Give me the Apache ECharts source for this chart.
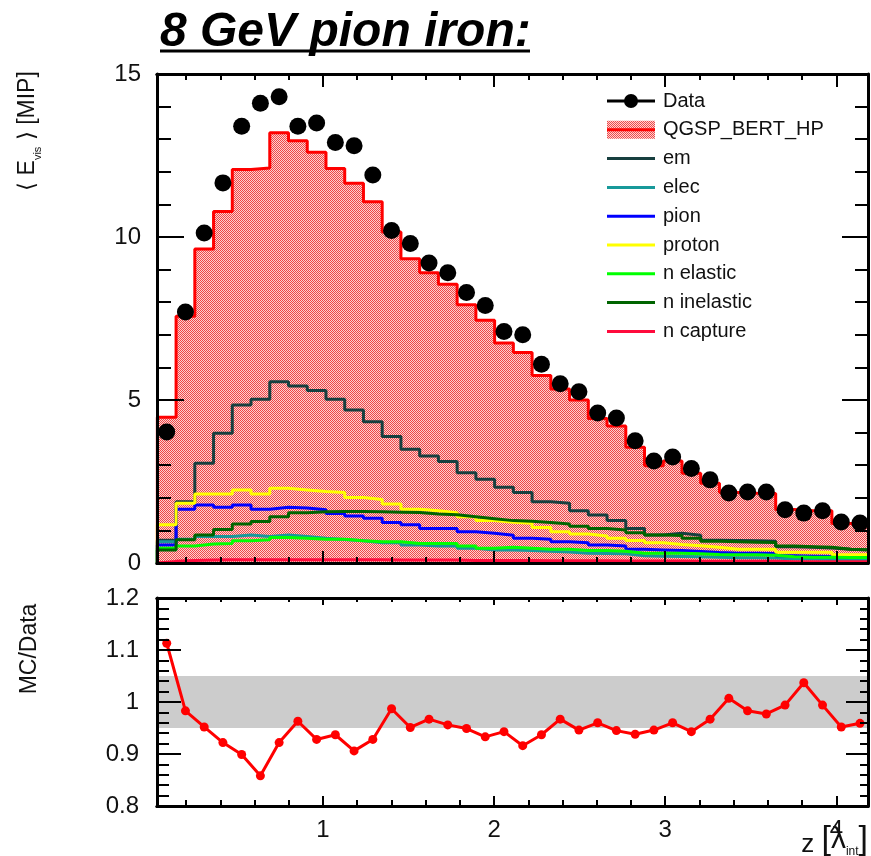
<!DOCTYPE html>
<html>
<head>
<meta charset="utf-8">
<script src="https://cdn.jsdelivr.net/npm/echarts@6/dist/echarts.min.js"></script>
<style>
  html, body { margin: 0; padding: 0; background: #fff; }
  #chart { width: 871px; height: 856px; }
</style>
</head>
<body>
<div id="chart"></div>
<script>
// Longitudinal shower profile, 8 GeV pions in iron: 38 depth bins in units of lambda_int
const zStart = 0.032;
const zWidth = 0.1095;

// Measured visible energy per layer [MIP]
const dataVals = [4.02, 7.7, 10.12, 11.66, 13.4, 14.1, 14.3, 13.4, 13.5, 12.9,
  12.8, 11.9, 10.2, 9.8, 9.2, 8.9, 8.3, 7.9, 7.1, 7.0,
  6.1, 5.5, 5.25, 4.6, 4.45, 3.75, 3.13, 3.25, 2.9, 2.55,
  2.15, 2.18, 2.18, 1.63, 1.53, 1.6, 1.26, 1.23];

// QGSP_BERT_HP total
const mcTotal = [4.47, 7.57, 9.63, 10.78, 12.07, 12.12, 13.2, 12.95, 12.6, 12.1,
  11.65, 11.08, 10.15, 9.33, 8.9, 8.55, 7.92, 7.45, 6.75, 6.46,
  5.75, 5.34, 5.0, 4.43, 4.2, 3.55, 2.98, 3.13, 2.75, 2.45,
  2.16, 2.14, 2.13, 1.64, 1.6, 1.6, 1.21, 1.19];

// Contributions by particle type
const emVals = [0.7, 1.88, 3.06, 3.98, 4.85, 5.02, 5.56, 5.43, 5.29, 5.02,
  4.69, 4.33, 3.88, 3.49, 3.28, 3.11, 2.77, 2.57, 2.32, 2.16,
  1.88, 1.83, 1.6, 1.47, 1.3, 1.06, 0.86, 0.91, 0.85, 0.7,
  0.69, 0.68, 0.67, 0.5, 0.48, 0.46, 0.42, 0.4];
const elecVals = [0.65, 0.73, 0.81, 0.81, 0.86, 0.81, 0.86, 0.81, 0.76, 0.72,
  0.68, 0.62, 0.62, 0.55, 0.52, 0.52, 0.45, 0.4, 0.4, 0.38,
  0.36, 0.34, 0.3, 0.29, 0.28, 0.22, 0.21, 0.2, 0.19, 0.18,
  0.16, 0.16, 0.15, 0.12, 0.12, 0.11, 0.1, 0.1];
const pionVals = [0.55, 1.65, 1.78, 1.71, 1.78, 1.65, 1.71, 1.69, 1.63, 1.52,
  1.44, 1.37, 1.24, 1.17, 1.06, 1.06, 0.96, 0.91, 0.85, 0.76,
  0.73, 0.65, 0.62, 0.55, 0.52, 0.42, 0.4, 0.38, 0.35, 0.32,
  0.3, 0.3, 0.29, 0.22, 0.21, 0.2, 0.17, 0.17];
const protonVals = [1.17, 1.83, 2.12, 2.12, 2.24, 2.12, 2.29, 2.24, 2.19, 2.16,
  2.01, 1.95, 1.81, 1.65, 1.6, 1.54, 1.42, 1.3, 1.25, 1.22,
  1.09, 0.96, 0.89, 0.83, 0.76, 0.69, 0.62, 0.57, 0.53, 0.48,
  0.42, 0.42, 0.42, 0.33, 0.33, 0.33, 0.25, 0.25];
const nElasticVals = [0.45, 0.52, 0.58, 0.6, 0.68, 0.71, 0.78, 0.76, 0.73, 0.73,
  0.68, 0.65, 0.65, 0.6, 0.6, 0.6, 0.52, 0.45, 0.48, 0.45,
  0.42, 0.42, 0.38, 0.38, 0.36, 0.3, 0.3, 0.3, 0.28, 0.26,
  0.25, 0.25, 0.24, 0.19, 0.18, 0.18, 0.17, 0.17];
const nInelasticVals = [0.4, 0.71, 0.86, 1.03, 1.2, 1.27, 1.42, 1.54, 1.57, 1.58,
  1.58, 1.57, 1.56, 1.55, 1.5, 1.48, 1.42, 1.36, 1.3, 1.28,
  1.24, 1.2, 1.13, 1.06, 1.01, 0.93, 0.86, 0.84, 0.76, 0.67,
  0.65, 0.64, 0.63, 0.52, 0.5, 0.48, 0.42, 0.41];
const nCaptureVals = [0.05, 0.08, 0.09, 0.1, 0.1, 0.1, 0.1, 0.1, 0.1, 0.1,
  0.1, 0.1, 0.09, 0.09, 0.09, 0.09, 0.08, 0.08, 0.08, 0.08,
  0.07, 0.07, 0.07, 0.07, 0.06, 0.06, 0.06, 0.06, 0.05, 0.05,
  0.05, 0.05, 0.05, 0.04, 0.04, 0.04, 0.04, 0.04];

// MC / Data per layer
const ratioVals = [1.113, 0.983, 0.952, 0.922, 0.899, 0.858, 0.922, 0.963, 0.928, 0.937,
  0.906, 0.928, 0.987, 0.951, 0.967, 0.956, 0.949, 0.933, 0.943, 0.916,
  0.937, 0.967, 0.946, 0.96, 0.945, 0.938, 0.946, 0.96, 0.943, 0.967,
  1.007, 0.983, 0.977, 0.994, 1.037, 0.994, 0.952, 0.959];

// Axis ticks
const xMajorTicks = [1, 2, 3, 4];
const xMinorTicks = [0.2, 0.4, 0.6, 0.8, 1.2, 1.4, 1.6, 1.8, 2.2, 2.4, 2.6, 2.8, 3.2, 3.4, 3.6, 3.8];
const ratioBand = [0.95, 1.05];

const components = [
  { name: 'em', vals: emVals, color: '#173f3f' },
  { name: 'elec', vals: elecVals, color: '#17999a' },
  { name: 'pion', vals: pionVals, color: '#0000ff' },
  { name: 'proton', vals: protonVals, color: '#ffff00' },
  { name: 'n elastic', vals: nElasticVals, color: '#00ff00' },
  { name: 'n inelastic', vals: nInelasticVals, color: '#006400' },
  { name: 'n capture', vals: nCaptureVals, color: '#ff0a3c' }
];

function binCentre(i) { return zStart + (i + 0.5) * zWidth; }
function stepLine(vals) {
  const pts = [[zStart, 0]];
  vals.forEach((v, i) => {
    const a = zStart + i * zWidth;
    pts.push([a, v], [a + zWidth, v]);
  });
  return pts;
}
function atCentres(vals) { return vals.map((v, i) => [binCentre(i), v]); }

// Fine red dot hatching for the simulated histogram
const hatch = document.createElement('canvas');
hatch.width = 2; hatch.height = 2;
const hctx = hatch.getContext('2d');
hctx.fillStyle = '#fcd2d2'; hctx.fillRect(0, 0, 2, 2);
hctx.fillStyle = '#f04848'; hctx.fillRect(0, 0, 1, 1); hctx.fillRect(1, 1, 1, 1);

const FONT = '"Liberation Sans", Arial, Helvetica, sans-serif';
const XMIN = 0.03, XMAX = 4.185;

function xAxisDef(grid, pos, ticks, len, labels) {
  return {
    type: 'value', gridIndex: grid, position: pos, min: XMIN, max: XMAX, z: 4,
    axisLine: { show: true, lineStyle: { color: '#000', width: 3 } },
    axisTick: { show: true, inside: true, length: len, customValues: ticks, lineStyle: { color: '#000', width: 2 } },
    axisLabel: labels ? { show: true, customValues: ticks, fontSize: 24, color: '#111', margin: 12, fontFamily: FONT } : { show: false },
    splitLine: { show: false }
  };
}
function yAxisDef(grid, pos, min, max, interval, len, minorLen, labels, margin) {
  return {
    type: 'value', gridIndex: grid, position: pos, min, max, interval, z: 4,
    axisLine: { show: true, lineStyle: { color: '#000', width: 3 } },
    axisTick: { show: true, inside: true, length: len, lineStyle: { color: '#000', width: 2 } },
    minorTick: { show: true, splitNumber: 5, length: minorLen, lineStyle: { color: '#000', width: 2 } },
    axisLabel: labels ? { show: true, fontSize: 24, color: '#111', margin, fontFamily: FONT } : { show: false },
    splitLine: { show: false }, minorSplitLine: { show: false }
  };
}

const series = [];
series.push({
  name: 'QGSP_BERT_HP', type: 'line', xAxisIndex: 0, yAxisIndex: 0,
  data: stepLine(mcTotal), symbol: 'none', z: 1,
  lineStyle: { color: '#ff0000', width: 3 },
  areaStyle: { color: { image: hatch, repeat: 'repeat' }, opacity: 1 }
});
components.forEach(c => {
  series.push({
    name: c.name, type: 'line', xAxisIndex: 0, yAxisIndex: 0,
    data: stepLine(c.vals), symbol: 'none', z: 3,
    lineStyle: { color: c.color, width: 3 }
  });
});
series.push({
  name: 'Data', type: 'scatter', xAxisIndex: 0, yAxisIndex: 0,
  data: atCentres(dataVals), symbol: 'circle', symbolSize: 17, z: 6,
  itemStyle: { color: '#000', opacity: 1 }
});
series.push({
  name: 'MC/Data', type: 'line', xAxisIndex: 4, yAxisIndex: 2,
  data: atCentres(ratioVals), symbol: 'circle', symbolSize: 9, showAllSymbol: true, z: 3,
  lineStyle: { color: '#ff0000', width: 3 }, itemStyle: { color: '#ff0000', opacity: 1 },
  markArea: {
    silent: true, itemStyle: { color: '#cccccc', opacity: 1 },
    data: [[{ yAxis: ratioBand[0] }, { yAxis: ratioBand[1] }]]
  }
});

// Legend drawn as graphic items
const legendRows = [{ name: 'Data', kind: 'marker' }, { name: 'QGSP_BERT_HP', kind: 'fill' }]
  .concat(components.map(c => ({ name: c.name, kind: 'line', color: c.color })));
const graphic = [];
legendRows.forEach((r, i) => {
  const y = 101 + 28.8 * i;
  if (r.kind === 'marker') {
    graphic.push({ type: 'line', shape: { x1: 607, y1: y, x2: 655, y2: y }, style: { stroke: '#000', lineWidth: 3 } });
    graphic.push({ type: 'circle', shape: { cx: 631, cy: y, r: 7 }, style: { fill: '#000' } });
  } else if (r.kind === 'fill') {
    graphic.push({ type: 'rect', shape: { x: 607, y: y - 9, width: 48, height: 18 }, style: { fill: { image: hatch, repeat: 'repeat' } } });
    graphic.push({ type: 'line', shape: { x1: 607, y1: y, x2: 655, y2: y }, style: { stroke: '#ff0000', lineWidth: 3 } });
  } else {
    graphic.push({ type: 'line', shape: { x1: 607, y1: y, x2: 655, y2: y }, style: { stroke: r.color, lineWidth: 3 } });
  }
  graphic.push({ type: 'text', x: 663, y: y, style: { text: r.name, fontSize: 20, fontFamily: FONT, fill: '#111', align: 'left', verticalAlign: 'middle', textAlign: 'left', textVerticalAlign: 'middle' } });
});

// Title with underline
graphic.push({ type: 'text', x: 160, y: 33, style: { text: '8 GeV pion iron:', fontSize: 48, fontWeight: 'bold', fontStyle: 'italic', fontFamily: FONT, fill: '#000', align: 'left', verticalAlign: 'middle', textAlign: 'left', textVerticalAlign: 'middle' } });
graphic.push({ type: 'line', shape: { x1: 160, y1: 51, x2: 530, y2: 51 }, style: { stroke: '#000', lineWidth: 3 } });

// Axis titles
graphic.push({ type: 'text', x: 28, y: 131, rotation: Math.PI / 2, style: {
  text: '{a|⟨ E}{s|vis}{a| ⟩ [MIP]}', align: 'center', verticalAlign: 'middle', textAlign: 'center', textVerticalAlign: 'middle',
  rich: { a: { fontSize: 23, fontFamily: FONT, fill: '#111', lineHeight: 30, verticalAlign: 'middle' }, s: { fontSize: 11, fontFamily: FONT, fill: '#111', lineHeight: 30, verticalAlign: 'bottom' } }
} });
graphic.push({ type: 'text', x: 30, y: 649, rotation: Math.PI / 2, style: { text: 'MC/Data', fontSize: 23, fontFamily: FONT, fill: '#111', align: 'center', verticalAlign: 'middle', textAlign: 'center', textVerticalAlign: 'middle' } });
graphic.push({ type: 'text', x: 868, y: 840, style: {
  text: '{z|z }{b|[}{l|λ}{s|int}{b|]}', align: 'right', verticalAlign: 'middle', textAlign: 'right', textVerticalAlign: 'middle',
  rich: {
    z: { fontSize: 26, fontFamily: FONT, fill: '#111', lineHeight: 36, verticalAlign: 'bottom' },
    b: { fontSize: 34, fontFamily: FONT, fill: '#111', lineHeight: 36, verticalAlign: 'middle' },
    l: { fontSize: 30, fontFamily: FONT, fill: '#111', lineHeight: 36, verticalAlign: 'middle' },
    s: { fontSize: 12, fontFamily: FONT, fill: '#111', lineHeight: 36, verticalAlign: 'bottom' }
  }
} });

const chart = echarts.init(document.getElementById('chart'), null, { renderer: 'canvas' });
chart.setOption({
  animation: false,
  backgroundColor: '#fff',
  grid: [
    { left: 157, right: 3, top: 74, height: 489 },
    { left: 157, right: 3, top: 598, height: 208 }
  ],
  xAxis: [
    xAxisDef(0, 'bottom', xMajorTicks, 12, false),
    xAxisDef(0, 'bottom', xMinorTicks, 6, false),
    xAxisDef(0, 'top', xMajorTicks, 13, false),
    xAxisDef(0, 'top', xMinorTicks, 6, false),
    xAxisDef(1, 'bottom', xMajorTicks, 10, true),
    xAxisDef(1, 'bottom', xMinorTicks, 6, false),
    xAxisDef(1, 'top', xMajorTicks, 7, false),
    xAxisDef(1, 'top', xMinorTicks, 4, false)
  ],
  yAxis: [
    yAxisDef(0, 'left', 0, 15, 5, 27, 14, true, 16),
    yAxisDef(0, 'right', 0, 15, 5, 26, 13, false),
    yAxisDef(1, 'left', 0.8, 1.2, 0.1, 24, 12, true, 18),
    yAxisDef(1, 'right', 0.8, 1.2, 0.1, 22, 8, false)
  ],
  series,
  graphic
});
</script>
</body>
</html>
